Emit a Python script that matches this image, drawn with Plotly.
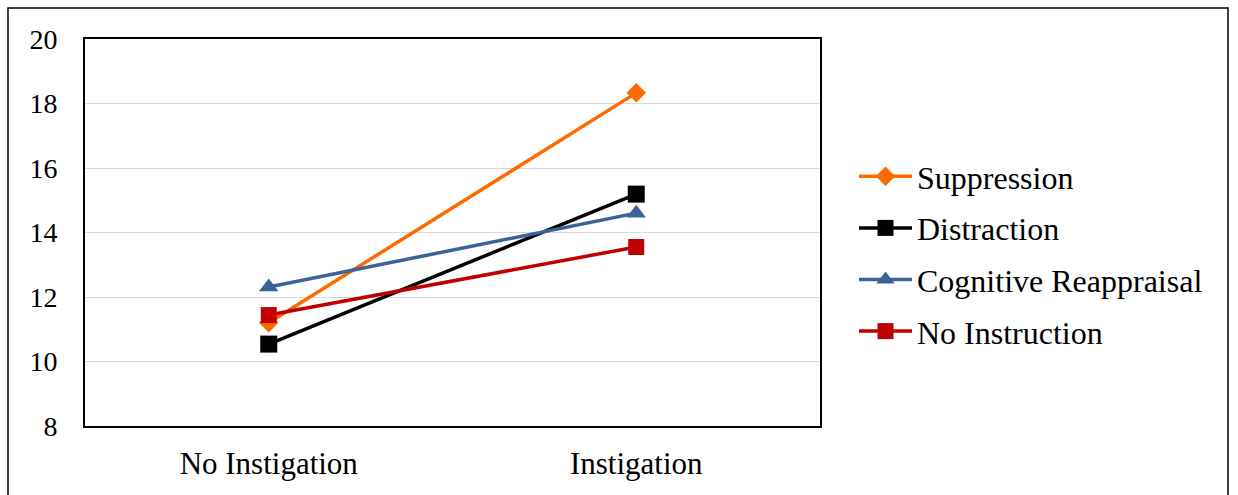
import plotly.graph_objects as go

# Conditions on the category axis
conditions = ["No Instigation", "Instigation"]

# Mean scores per emotion-regulation group
suppression = [11.2, 18.33]
distraction = [10.54, 15.19]
cognitive_reappraisal = [12.31, 14.6]
no_instruction = [11.44, 13.55]

series = [
    ("Suppression", suppression, "#FF6A00", "diamond", 15),
    ("Distraction", distraction, "#000000", "square", 17),
    ("Cognitive Reappraisal", cognitive_reappraisal, "#3A6496", "triangle-up", 17),
    ("No Instruction", no_instruction, "#C00000", "square", 16),
]

y_ticks = [8, 10, 12, 14, 16, 18, 20]

W, H = 1238, 495
L, R, T, B = 85, 418, 39, 69
plot_w = W - L - R
plot_h = H - T - B

fig = go.Figure()
for name, vals, color, symbol, size in series:
    fig.add_trace(go.Scatter(
        x=conditions, y=vals, name=name, mode="lines+markers",
        line=dict(color=color, width=3.5),
        marker=dict(symbol=symbol, size=size, color=color),
        legendgroup=name,
    ))

serif = "Liberation Serif"

fig.update_layout(
    width=W, height=H,
    margin=dict(l=L, r=R, t=T, b=B),
    paper_bgcolor="white", plot_bgcolor="white",
    font=dict(family=serif, color="black", size=24),
    showlegend=True,
    legend=dict(
        x=(854 - L) / plot_w, xanchor="left",
        y=(426 - 254) / plot_h, yanchor="middle",
        font=dict(size=32, family=serif, color="black"),
        bgcolor="rgba(0,0,0,0)", itemwidth=53,
        traceorder="grouped", tracegroupgap=7,
    ),
    xaxis=dict(
        type="category", range=[-0.5, 1.5],
        showline=True, linecolor="black", linewidth=2, mirror=True,
        showgrid=False, ticks="", tickfont=dict(size=31, family=serif),
        ticklabelstandoff=9,
    ),
    yaxis=dict(
        range=[8, 20], tickvals=y_ticks,
        showline=True, linecolor="black", linewidth=2, mirror=True,
        showgrid=True, gridcolor="#D9D9D9", gridwidth=1,
        zeroline=False, ticks="", tickfont=dict(size=28, family=serif),
        ticklabelstandoff=20,
    ),
    shapes=[dict(
        type="rect", xref="paper", yref="paper",
        x0=(8 - L) / plot_w, x1=(1228 - L) / plot_w,
        y0=(426 - 510) / plot_h, y1=(426 - 8) / plot_h,
        line=dict(color="black", width=1.5), fillcolor="rgba(0,0,0,0)",
        layer="below",
    )],
)

fig.write_html("out.html")
